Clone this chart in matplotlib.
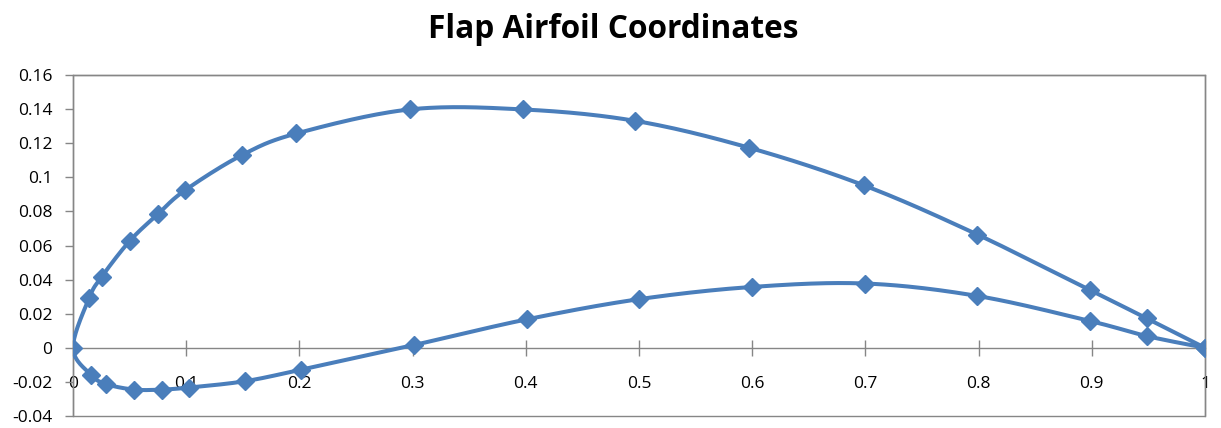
import numpy as np
import matplotlib
matplotlib.use("Agg")
import matplotlib.pyplot as plt
from matplotlib.patches import Rectangle

# Upper surface (trailing edge -> leading edge)
upper_x = [1.0, 0.9485, 0.8985, 0.799, 0.699, 0.597, 0.4966, 0.3975, 0.2975, 0.1974, 0.1489, 0.0988, 0.0753, 0.0503, 0.0253, 0.0144, 0.0]
upper_y = [0.0, 0.0173, 0.0338, 0.0664, 0.0952, 0.1174, 0.1331, 0.1398, 0.1398, 0.1257, 0.1129, 0.0923, 0.0786, 0.0628, 0.0416, 0.0294, 0.0]
# Lower surface (leading edge -> trailing edge)
lower_x = [0.0, 0.0156, 0.029, 0.0538, 0.0783, 0.1027, 0.1518, 0.2018, 0.301, 0.401, 0.4998, 0.600, 0.700, 0.799, 0.8985, 0.9485, 1.0]
lower_y = [0.0, -0.0157, -0.0212, -0.0245, -0.0245, -0.0233, -0.0196, -0.0128, 0.0016, 0.0167, 0.0285, 0.0357, 0.0377, 0.0304, 0.0157, 0.0069, 0.0]

x_ticks = [0, 0.1, 0.2, 0.3, 0.4, 0.5, 0.6, 0.7, 0.8, 0.9, 1]
x_labels = ["0", "0.1", "0.2", "0.3", "0.4", "0.5", "0.6", "0.7", "0.8", "0.9", "1"]
y_ticks = [-0.04, -0.02, 0, 0.02, 0.04, 0.06, 0.08, 0.1, 0.12, 0.14, 0.16]
y_labels = ["-0.04", "-0.02", "0", "0.02", "0.04", "0.06", "0.08", "0.1", "0.12", "0.14", "0.16"]
title = "Flap Airfoil Coordinates"

COLOR = "#4A7EBB"
GRAY = "#868686"
FONT = ["Open Sans", "DejaVu Sans"]


def smooth(xs, ys, n=30):
    """Excel-like smoothing: Catmull-Rom style cubic Bezier through points."""
    P = np.column_stack([xs, ys]).astype(float)
    m = len(P)
    out = []
    for i in range(m - 1):
        p0 = P[i - 1] if i > 0 else P[i]
        p1 = P[i]
        p2 = P[i + 1]
        p3 = P[i + 2] if i + 2 < m else P[i + 1]
        c1 = p1 + (p2 - p0) / 6.0
        c2 = p2 - (p3 - p1) / 6.0
        t = np.linspace(0, 1, n)[:, None]
        seg = ((1 - t) ** 3) * p1 + 3 * ((1 - t) ** 2) * t * c1 + 3 * (1 - t) * t ** 2 * c2 + t ** 3 * p2
        out.append(seg if i == 0 else seg[1:])
    out = np.vstack(out)
    return out[:, 0], out[:, 1]


all_x = upper_x + lower_x[1:]
all_y = upper_y + lower_y[1:]

fig = plt.figure(figsize=(12.21, 4.28), dpi=100)
ax = fig.add_axes([73 / 1221, 1 - 416 / 428, (1205 - 73) / 1221, (416 - 75) / 428])

sx, sy = smooth(all_x, all_y)
ax.plot(sx, sy, color=COLOR, lw=2.9, zorder=3, solid_capstyle="round")
ax.plot(all_x, all_y, linestyle="none", marker="D", ms=9.5, color=COLOR, zorder=4)

ax.set_xlim(0, 1)
ax.set_ylim(-0.04, 0.16)

for s in ["top", "left", "right"]:
    ax.spines[s].set_color(GRAY)
    ax.spines[s].set_linewidth(1.0)
ax.spines["bottom"].set_position(("data", 0))
ax.spines["bottom"].set_color(GRAY)
ax.spines["bottom"].set_linewidth(1.0)
ax.add_patch(Rectangle((0, 0), 1, 1, transform=ax.transAxes, fill=False,
                       edgecolor=GRAY, lw=1.0, clip_on=False, zorder=1))

ax.set_xticks(x_ticks)
ax.set_xticklabels(x_labels, family=FONT, fontsize=12.5)
ax.set_yticks(y_ticks)
ax.set_yticklabels(y_labels, family=FONT, fontsize=12.5)
ax.tick_params(axis="x", direction="inout", length=11, color=GRAY, width=1.0, pad=15)
ax.tick_params(axis="y", direction="out", length=6, color=GRAY, width=1.0, pad=9)

fig.text(613 / 1221, 1 - 29 / 428, title, ha="center", va="center",
         fontsize=22.8, fontweight="bold", family=FONT)

fig.savefig("out.png", dpi=100)
